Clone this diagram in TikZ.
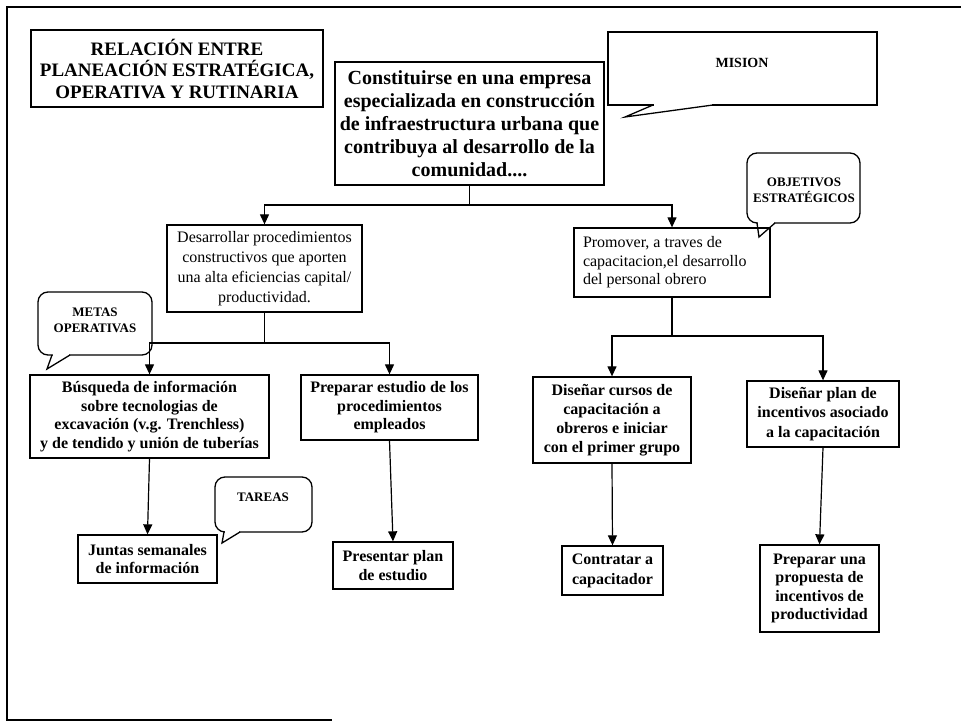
\documentclass[tikz,border=0pt]{standalone}
\usepackage{fontspec}
\setmainfont{Liberation Serif}
\usetikzlibrary{arrows.meta}
\newcommand\txtsize[2]{\fontsize{#1}{#2}\selectfont}
\begin{document}
\begin{tikzpicture}[x=1pt,y=-1pt,
  box/.style={draw, line width=1.3pt, inner sep=0pt, align=center},
  bbox/.style={box, font=\bfseries\txtsize{16}{18.5}},
  rbox/.style={box, font=\txtsize{16}{20}},
  bubble/.style={draw, line width=1.3pt, inner sep=0pt, rounded corners=10pt},
  label/.style={inner sep=0pt, align=center, font=\bfseries\txtsize{13}{16}},
  link/.style={line width=1.2pt},
  arr/.style={link, -{Triangle[length=10pt,width=9pt]}},
  frame/.style={line width=2.5pt}]
\useasboundingbox (0,0) rectangle (961,722);

% page frame
\coordinate (fa) at (961,7);
\coordinate (fb) at (7,7);
\coordinate (fc) at (7,720);
\coordinate (fd) at (332,720);
\draw[frame] (fa) -- (fb) -- (fc) -- (fd);

% title
\node[box, minimum width=292pt, minimum height=77pt,
      font=\bfseries\txtsize{19}{21.5}] (title) at (177,68.5)
  {RELACIÓN ENTRE\\PLANEACIÓN ESTRATÉGICA,\\OPERATIVA Y RUTINARIA};

% mission
\node[box, minimum width=269pt, minimum height=123pt,
      font=\bfseries\txtsize{20}{23}] (mision) at (469.5,123.5)
  {Constituirse en una empresa\\especializada en construcción\\de infraestructura urbana que\\contribuya al desarrollo de la\\comunidad....};

% strategic objectives
\node[rbox, minimum width=195pt, minimum height=87pt] (desarrollar) at (264.5,268.5)
  {Desarrollar procedimientos\\constructivos que aporten\\una alta eficiencias capital/\\productividad.};
\node[box, minimum width=196pt, minimum height=69pt, inner xsep=9pt,
      text width=178pt, align=flush left, font=\txtsize{16}{18.5}] (promover) at (672,262.5)
  {Promover, a traves de\\capacitacion,el desarrollo\\del personal obrero};

% operative goals
\node[bbox, minimum width=239pt, minimum height=83pt] (busqueda) at (149.5,416.5)
  {Búsqueda de información\\sobre tecnologias de\\excavación (v.g. Trenchless)\\y de tendido y unión de tuberías};
\node[bbox, minimum width=177pt, minimum height=65pt] (preparar) at (389.5,407.5)
  {Preparar estudio de los\\procedimientos\\empleados};
\node[bbox, minimum width=158pt, minimum height=86pt, font=\bfseries\txtsize{16}{19}] (cursos) at (612,420)
  {Diseñar cursos de\\capacitación a\\obreros e iniciar\\con el primer grupo};
\node[bbox, minimum width=152pt, minimum height=66pt, font=\bfseries\txtsize{16}{19.5}] (plan) at (823,414)
  {Diseñar plan de\\incentivos asociado\\a la capacitación};

% tasks
\node[bbox, minimum width=139pt, minimum height=48pt] (juntas) at (147.5,559)
  {Juntas semanales\\de información};
\node[bbox, minimum width=120pt, minimum height=47pt] (presentar) at (393,565.5)
  {Presentar plan\\de estudio};
\node[bbox, minimum width=101pt, minimum height=49pt, font=\bfseries\txtsize{16}{20}] (contratar) at (612.5,570.5)
  {Contratar a\\capacitador};
\node[bbox, minimum width=119pt, minimum height=87pt] (propuesta) at (819.5,588.5)
  {Preparar una\\propuesta de\\incentivos de\\productividad};

% connectors
\coordinate (j1) at (469.5,205);
\draw[link] (mision.south) -- (j1);
\draw[arr] (j1) -| (desarrollar.north);
\draw[arr] (j1) -| (promover.north);

\coordinate (j2) at (264.5,343);
\draw[link] (desarrollar.south) -- (j2);
\draw[arr] (j2) -| (busqueda.north);
\draw[arr] (j2) -| (preparar.north);

\coordinate (j3) at (672,336);
\draw[link] (promover.south) -- (j3);
\draw[arr] (j3) -| (cursos.north);
\draw[arr] (j3) -| (plan.north);

\draw[arr] (busqueda.south) -- (juntas.north);
\draw[arr] (preparar.south) -- (presentar.north);
\draw[arr] (cursos.south) -- (contratar.north);
\draw[arr] (plan.south) -- (propuesta.north);

% callout: MISION
\node[draw, line width=1.3pt, inner sep=0pt, minimum width=269pt,
      minimum height=73pt] (misionbody) at (742.5,68.5) {};
\node[label, font=\bfseries\txtsize{14}{16}] (misiontext) at (742,63) {MISION};
\coordinate (mt1) at (653,105);
\coordinate (mt2) at (625,117);
\coordinate (mt3) at (713,105);
\fill[white] (654,103) rectangle (712,107);
\draw[link, line width=1.3pt, line join=miter] (mt1) -- (mt2) -- (mt3);

% callout: OBJETIVOS ESTRATEGICOS
\node[bubble, minimum width=113pt, minimum height=70pt] (objbody) at (803.5,188) {};
\node[label] (objtext) at (804,190) {OBJETIVOS\\ESTRATÉGICOS};
\coordinate (ot1) at (757,223);
\coordinate (ot2) at (759,237);
\coordinate (ot3) at (775,223);
\fill[white] (758,221) rectangle (774,225);
\draw[link, line width=1.3pt] (ot1) -- (ot2) -- (ot3);

% callout: METAS OPERATIVAS
\node[bubble, minimum width=114pt, minimum height=63pt] (metasbody) at (95,323.5) {};
\node[label] (metastext) at (95,320.5) {METAS\\OPERATIVAS};
\coordinate (gt1) at (52,355);
\coordinate (gt2) at (47,369);
\coordinate (gt3) at (70,355);
\fill[white] (53,353) rectangle (69,357);
\draw[link, line width=1.3pt] (gt1) -- (gt2) -- (gt3);

% callout: TAREAS
\node[bubble, minimum width=97pt, minimum height=55pt] (tareasbody) at (263.5,504.5) {};
\node[label] (tareastext) at (263,497) {TAREAS};
\coordinate (tt1) at (224,532);
\coordinate (tt2) at (222,543);
\coordinate (tt3) at (240,532);
\fill[white] (225,530) rectangle (239,534);
\draw[link, line width=1.3pt] (tt1) -- (tt2) -- (tt3);
\end{tikzpicture}
\end{document}
